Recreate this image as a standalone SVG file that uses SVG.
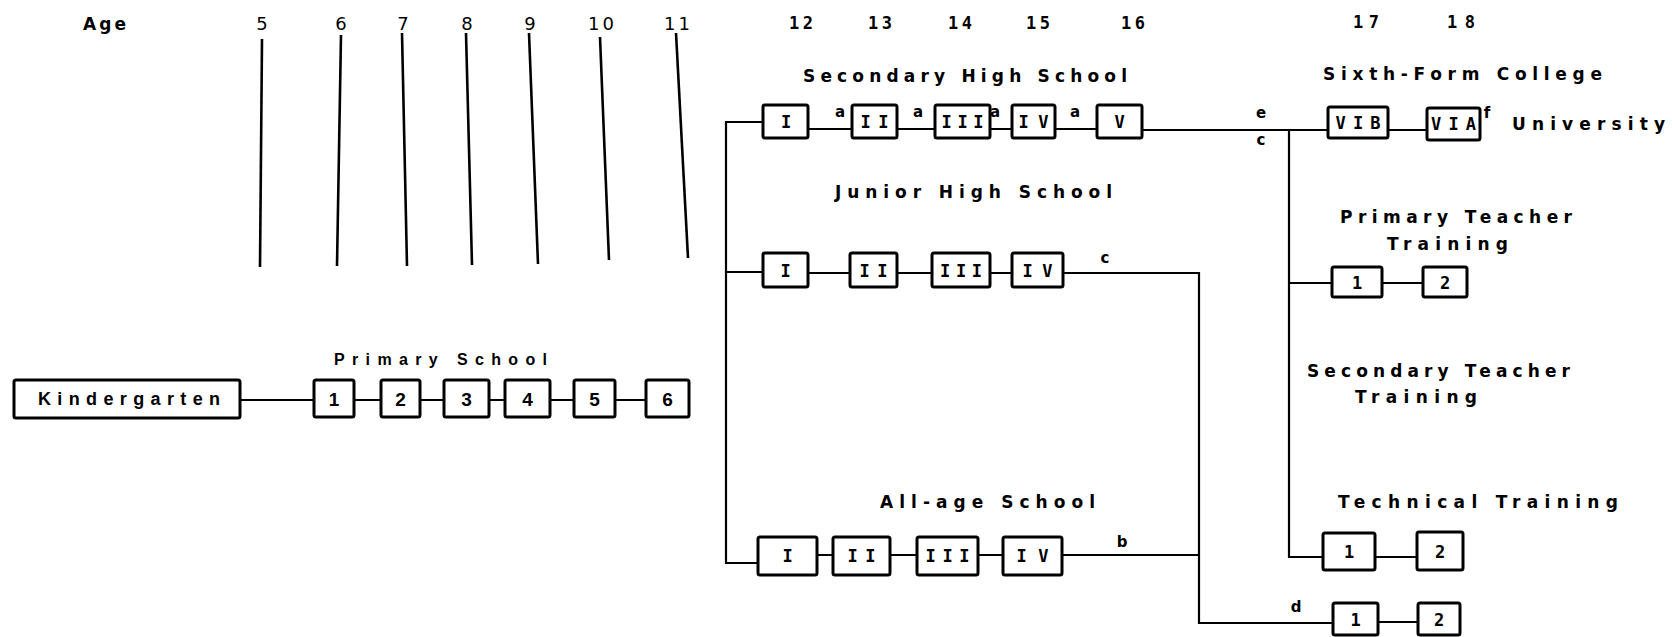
<svg xmlns="http://www.w3.org/2000/svg" width="1672" height="637" viewBox="0 0 1672 637">
<style>
.bx{fill:#fff;stroke:#000;stroke-width:3}
.ln{fill:none;stroke:#000;stroke-width:2.2}
.tk{fill:none;stroke:#000;stroke-width:2.6}
.t{font-family:"DejaVu Sans Mono","Liberation Mono",monospace;font-weight:bold;font-size:17px;fill:#000}
.h{font-family:"DejaVu Sans","Liberation Sans",sans-serif;font-weight:bold;font-size:17px;fill:#000}
.r{font-family:"DejaVu Sans","Liberation Sans",sans-serif;font-weight:normal;fill:#000}
.p{font-family:"Liberation Sans","DejaVu Sans",sans-serif;font-weight:bold;fill:#000}
.m{text-anchor:middle}
.lb{font-family:"DejaVu Sans","Liberation Sans",sans-serif;font-weight:bold;font-size:15px;fill:#000;text-anchor:middle}
</style>
<rect width="1672" height="637" fill="#fff"/>

<g id="connectors">
  <path class="tk" d="M262 39 L260 267"/>
  <path class="tk" d="M341 35 L337 266"/>
  <path class="tk" d="M402 33 L407 266"/>
  <path class="tk" d="M466 33 L472 265"/>
  <path class="tk" d="M529 33 L538 264"/>
  <path class="tk" d="M600 37 L609 260"/>
  <path class="tk" d="M676 33 L688 258"/>
  <path class="ln" d="M240 400 H314 M354 400 H381 M420 400 H444 M489 400 H505 M550 400 H574 M615 400 H646"/>
  <path class="ln" d="M763 122 H726 V563 H758 M726 272 H763"/>
  <path class="ln" d="M808 129 H852 M897 129 H935 M990 129 H1012 M1055 129 H1097 M1142 130 H1328 M1388 130 H1427"/>
  <path class="ln" d="M1289 130 V557 H1323 M1289 283 H1332 M1382 283 H1423 M1375 557 H1417"/>
  <path class="ln" d="M808 273 H850 M897 273 H932 M990 273 H1012 M1063 273 H1199 V623 H1333 M1378 622 H1418"/>
  <path class="ln" d="M817 555 H833 M890 555 H917 M978 555 H1003 M1062 555 H1199"/>
</g>

<g id="ages">
  <text class="h" x="83" y="30" textLength="43" lengthAdjust="spacing">Age</text>
  <text class="r m" font-size="18" x="262" y="30">5</text>
  <text class="r m" font-size="18" x="341" y="30">6</text>
  <text class="r m" font-size="18" x="403" y="30">7</text>
  <text class="r m" font-size="18" x="467" y="30">8</text>
  <text class="r m" font-size="18" x="530" y="30">9</text>
  <text class="r m" font-size="18" x="601" y="30" textLength="26" lengthAdjust="spacing">10</text>
  <text class="r m" font-size="18" x="677" y="30" textLength="26" lengthAdjust="spacing">11</text>
  <text class="t m" x="801" y="29" textLength="24" lengthAdjust="spacing">12</text>
  <text class="t m" x="880" y="29" textLength="24" lengthAdjust="spacing">13</text>
  <text class="t m" x="960" y="29" textLength="24" lengthAdjust="spacing">14</text>
  <text class="t m" x="1038" y="29" textLength="24" lengthAdjust="spacing">15</text>
  <text class="t m" x="1133" y="29" textLength="24" lengthAdjust="spacing">16</text>
  <text class="t m" x="1366" y="28" textLength="26" lengthAdjust="spacing">17</text>
  <text class="t m" x="1461" y="28" textLength="28" lengthAdjust="spacing">18</text>
</g>

<g id="titles">
  <text class="h" x="803" y="82" textLength="324" lengthAdjust="spacing">Secondary High School</text>
  <text class="h" x="835" y="198" textLength="277" lengthAdjust="spacing">Junior High School</text>
  <text class="h" x="880" y="508" textLength="215" lengthAdjust="spacing">All-age School</text>
  <text class="h" x="1323" y="80" textLength="279" lengthAdjust="spacing">Sixth-Form College</text>
  <text class="h" x="1512" y="130" textLength="153" lengthAdjust="spacing">University</text>
  <text class="h" x="1340" y="223" textLength="232" lengthAdjust="spacing">Primary Teacher</text>
  <text class="h" x="1387" y="250" textLength="121" lengthAdjust="spacing">Training</text>
  <text class="h" x="1307" y="377" textLength="263" lengthAdjust="spacing">Secondary Teacher</text>
  <text class="h" x="1355" y="403" textLength="122" lengthAdjust="spacing">Training</text>
  <text class="h" x="1338" y="508" textLength="280" lengthAdjust="spacing">Technical Training</text>
  <text class="p" font-size="16" x="334" y="365" textLength="213" lengthAdjust="spacing">Primary School</text>
</g>

<g id="letters">
  <text class="lb" x="840" y="117">a</text>
  <text class="lb" x="918" y="117">a</text>
  <text class="lb" x="995" y="117">a</text>
  <text class="lb" x="1075" y="117">a</text>
  <text class="lb" x="1261" y="118">e</text>
  <text class="lb" x="1261" y="145">c</text>
  <text class="lb" x="1105" y="263">c</text>
  <text class="lb" x="1122" y="547">b</text>
  <text class="lb" x="1296" y="612">d</text>
  <text class="lb" x="1487" y="118" font-size="12">f</text>
</g>

<g id="kindergarten"><rect class="bx" x="14" y="380" width="226" height="38" rx="2"/><text class="p" font-size="18" x="38" y="405" textLength="182" lengthAdjust="spacing">Kindergarten</text></g>
<g id="p1"><rect class="bx" x="314" y="380" width="40" height="37" rx="2"/><text class="p m" font-size="19" x="334" y="406">1</text></g>
<g id="p2"><rect class="bx" x="381" y="380" width="39" height="37" rx="2"/><text class="p m" font-size="19" x="400.5" y="406">2</text></g>
<g id="p3"><rect class="bx" x="444" y="380" width="45" height="37" rx="2"/><text class="p m" font-size="19" x="466.5" y="406">3</text></g>
<g id="p4"><rect class="bx" x="505" y="380" width="45" height="37" rx="2"/><text class="p m" font-size="19" x="527.5" y="406">4</text></g>
<g id="p5"><rect class="bx" x="574" y="380" width="41" height="37" rx="2"/><text class="p m" font-size="19" x="594.5" y="406">5</text></g>
<g id="p6"><rect class="bx" x="646" y="380" width="43" height="37" rx="2"/><text class="p m" font-size="19" x="667.5" y="406">6</text></g>

<g id="s1"><rect class="bx" x="763" y="105" width="45" height="33" rx="2"/><text class="t m" x="786" y="128">I</text></g>
<g id="s2"><rect class="bx" x="852" y="105" width="45" height="33" rx="2"/><text class="t m" x="874.5" y="128" textLength="28" lengthAdjust="spacing">II</text></g>
<g id="s3"><rect class="bx" x="935" y="105" width="55" height="33" rx="2"/><text class="t m" x="962.5" y="128" textLength="42" lengthAdjust="spacing">III</text></g>
<g id="s4"><rect class="bx" x="1012" y="105" width="43" height="33" rx="2"/><text class="t m" x="1033.5" y="128" textLength="30" lengthAdjust="spacing">IV</text></g>
<g id="s5"><rect class="bx" x="1097" y="105" width="45" height="33" rx="2"/><text class="t m" x="1119.5" y="128">V</text></g>

<g id="vib"><rect class="bx" x="1328" y="107" width="60" height="31" rx="2"/><text class="t m" x="1358" y="129" textLength="45" lengthAdjust="spacing">VIB</text></g>
<g id="via"><rect class="bx" x="1427" y="108" width="53" height="32" rx="2"/><text class="t m" x="1453.5" y="130" textLength="45" lengthAdjust="spacing">VIA</text></g>

<g id="j1"><rect class="bx" x="763" y="253" width="45" height="34" rx="2"/><text class="t m" x="785.5" y="277">I</text></g>
<g id="j2"><rect class="bx" x="850" y="253" width="47" height="34" rx="2"/><text class="t m" x="873.5" y="277" textLength="28" lengthAdjust="spacing">II</text></g>
<g id="j3"><rect class="bx" x="932" y="253" width="58" height="34" rx="2"/><text class="t m" x="961" y="277" textLength="42" lengthAdjust="spacing">III</text></g>
<g id="j4"><rect class="bx" x="1012" y="253" width="51" height="34" rx="2"/><text class="t m" x="1037.5" y="277" textLength="30" lengthAdjust="spacing">IV</text></g>

<g id="a1"><rect class="bx" x="758" y="537" width="59" height="38" rx="2"/><text class="t m" x="787.5" y="562">I</text></g>
<g id="a2"><rect class="bx" x="833" y="537" width="57" height="38" rx="2"/><text class="t m" x="861.5" y="562" textLength="28" lengthAdjust="spacing">II</text></g>
<g id="a3"><rect class="bx" x="917" y="537" width="61" height="38" rx="2"/><text class="t m" x="947.5" y="562" textLength="44" lengthAdjust="spacing">III</text></g>
<g id="a4"><rect class="bx" x="1003" y="537" width="59" height="38" rx="2"/><text class="t m" x="1032.5" y="562" textLength="32" lengthAdjust="spacing">IV</text></g>

<g id="pt1"><rect class="bx" x="1332" y="267" width="50" height="30" rx="2"/><text class="t m" x="1357" y="289">1</text></g>
<g id="pt2"><rect class="bx" x="1423" y="267" width="44" height="30" rx="2"/><text class="t m" x="1445" y="289">2</text></g>
<g id="tt1"><rect class="bx" x="1323" y="533" width="52" height="37" rx="2"/><text class="t m" x="1349" y="558">1</text></g>
<g id="tt2"><rect class="bx" x="1417" y="532" width="46" height="38" rx="2"/><text class="t m" x="1440" y="558">2</text></g>
<g id="d1"><rect class="bx" x="1333" y="603" width="45" height="32" rx="2"/><text class="t m" x="1355.5" y="626">1</text></g>
<g id="d2"><rect class="bx" x="1418" y="603" width="42" height="32" rx="2"/><text class="t m" x="1439" y="626">2</text></g>
</svg>
